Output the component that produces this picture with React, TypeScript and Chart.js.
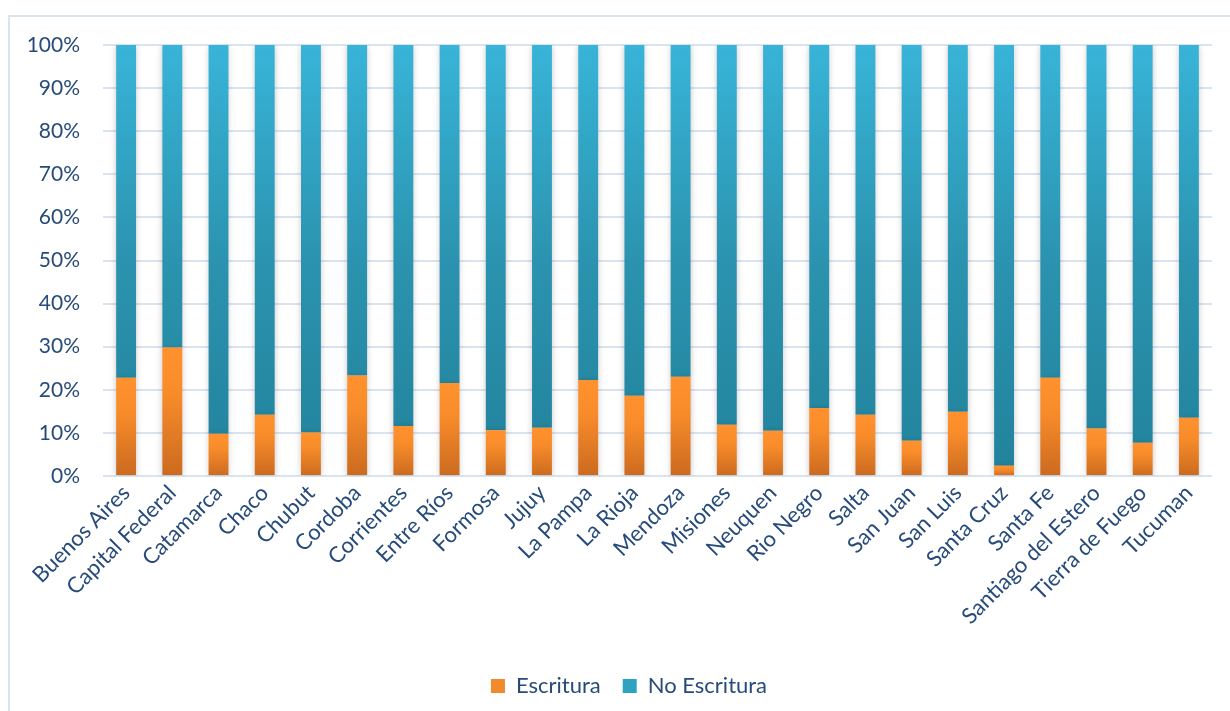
import React, { useEffect, useRef } from "react";
import { Chart, registerables } from "chart.js";

Chart.register(...registerables);

const categories = [
  "Buenos Aires", "Capital Federal", "Catamarca", "Chaco", "Chubut", "Cordoba",
  "Corrientes", "Entre Ríos", "Formosa", "Jujuy", "La Pampa", "La Rioja",
  "Mendoza", "Misiones", "Neuquen", "Rio Negro", "Salta", "San Juan",
  "San Luis", "Santa Cruz", "Santa Fe", "Santiago del Estero", "Tierra de Fuego", "Tucuman",
];

const escritura = [
  22.8, 29.8, 9.8, 14.2, 10.1, 23.3, 11.6, 21.6, 10.6, 11.2, 22.3, 18.6,
  23.0, 11.9, 10.5, 15.8, 14.2, 8.2, 14.9, 2.4, 22.8, 11.0, 7.7, 13.5,
];

const noEscritura = escritura.map((v) => Math.round((100 - v) * 10) / 10);

const TEXT = "#264B7A";
const GRID = "#DAE4F1";
const FONT = "Lato, 'Open Sans', sans-serif";

export default function App() {
  const ref = useRef<HTMLCanvasElement | null>(null);

  useEffect(() => {
    if (!ref.current) return;

    const orangeFill = (ctx: any) => {
      const chart = ctx.chart;
      const ys = chart.scales?.y;
      if (ctx.type !== "data" || !ys || !chart.chartArea) return "#F08A2A";
      const top = ys.getPixelForValue(ctx.parsed?.y ?? ctx.raw);
      const base = ys.getPixelForValue(0);
      if (!isFinite(top) || !isFinite(base) || base - top < 1) return "#F08A2A";
      const g = chart.ctx.createLinearGradient(0, top, 0, base);
      g.addColorStop(0, "#FF922E");
      g.addColorStop(0.35, "#F88C2A");
      g.addColorStop(1, "#CB6A1F");
      return g;
    };

    const blueFill = (ctx: any) => {
      const chart = ctx.chart;
      const area = chart.chartArea;
      if (!area) return "#2B96B2";
      const g = chart.ctx.createLinearGradient(0, area.top, 0, area.bottom);
      g.addColorStop(0, "#38B4D8");
      g.addColorStop(0.5, "#2B93AF");
      g.addColorStop(1, "#22829B");
      return g;
    };

    const shadowPlugin = {
      id: "barShadow",
      beforeDatasetsDraw(chart: any) {
        const c = chart.ctx;
        c.save();
        c.shadowColor = "rgba(0,0,0,0.22)";
        c.shadowBlur = 6;
        c.shadowOffsetX = 0;
        c.shadowOffsetY = 1;
      },
      afterDatasetsDraw(chart: any) {
        chart.ctx.restore();
      },
    };

    const legendShift = {
      id: "legendShift",
      afterUpdate(chart: any) {
        const lg = chart.legend;
        if (lg) {
          lg.left += 23;
          lg.right += 23;
        }
      },
    };

    const chart = new Chart(ref.current, {
      type: "bar",
      data: {
        labels: categories,
        datasets: [
          {
            label: "Escritura",
            data: escritura,
            backgroundColor: orangeFill,
            barPercentage: 0.43,
            categoryPercentage: 1,
          },
          {
            label: "No Escritura",
            data: noEscritura,
            backgroundColor: blueFill,
            barPercentage: 0.43,
            categoryPercentage: 1,
          },
        ],
      },
      options: {
        animation: false,
        responsive: false,
        maintainAspectRatio: false,
        layout: { padding: { top: 45, right: 18, left: 0, bottom: 4 } },
        plugins: {
          tooltip: { enabled: false },
          legend: {
            position: "bottom",
            labels: {
              color: TEXT,
              font: { family: FONT, size: 22 },
              boxWidth: 14,
              boxHeight: 14,
              padding: 22,
              generateLabels: () => [
                { text: "Escritura", fillStyle: "#F08A2A", strokeStyle: "transparent", lineWidth: 0, datasetIndex: 0, fontColor: TEXT },
                { text: "No Escritura", fillStyle: "#2FA2C2", strokeStyle: "transparent", lineWidth: 0, datasetIndex: 1, fontColor: TEXT },
              ],
            },
          },
        },
        scales: {
          x: {
            stacked: true,
            grid: { display: false, drawTicks: false },
            border: { display: false },
            ticks: {
              color: TEXT,
              font: { family: FONT, size: 22 },
              maxRotation: 45,
              minRotation: 45,
              autoSkip: false,
              padding: 4,
            },
            afterFit: (scale: any) => {
              scale.height = 177;
            },
          },
          y: {
            stacked: true,
            min: 0,
            max: 100,
            grid: { color: GRID, lineWidth: 2, drawTicks: false },
            border: { display: false },
            ticks: {
              stepSize: 10,
              color: TEXT,
              font: { family: FONT, size: 21 },
              padding: 23,
              callback: (v: any) => v + "%",
            },
            afterFit: (scale: any) => {
              scale.width = 103;
            },
          },
        },
      },
      plugins: [shadowPlugin, legendShift],
    } as any);

    return () => chart.destroy();
  }, []);

  return (
    <div style={{ position: "absolute", left: 0, top: 0, width: 1230, height: 711, overflow: "hidden", background: "#fff" }}>
      <div
        style={{
          position: "absolute",
          left: 8,
          top: 15,
          width: 1300,
          height: 800,
          borderLeft: "2px solid #DAE4F1",
          borderTop: "2px solid #DAE4F1",
        }}
      />
      <canvas ref={ref} width={1230} height={711} style={{ position: "absolute", left: 0, top: 0, width: 1230, height: 711 }} />
    </div>
  );
}
